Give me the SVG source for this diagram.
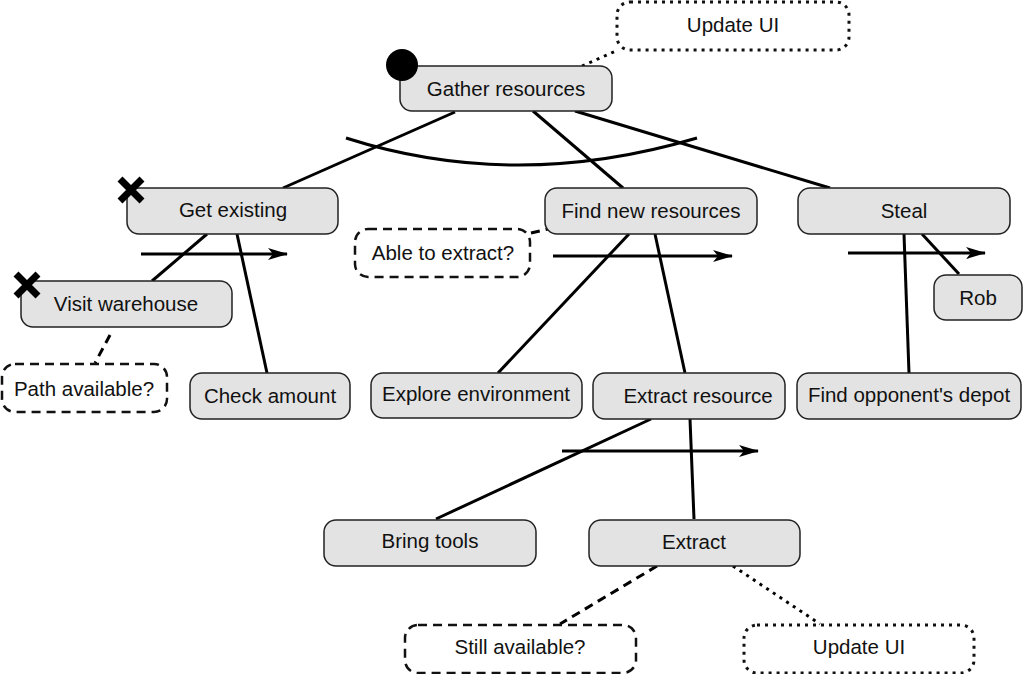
<svg xmlns="http://www.w3.org/2000/svg" width="1024" height="674" viewBox="0 0 1024 674">
<style>
.n{fill:#e3e3e3;stroke:#222;stroke-width:1.5}
.dash{fill:#fff;stroke:#111;stroke-width:2.5;stroke-dasharray:9,6}
.dot{fill:#fff;stroke:#111;stroke-width:3;stroke-dasharray:3,5}
text{font-family:"Liberation Sans",Arial,sans-serif;font-size:20.5px;fill:#111;text-anchor:middle}
.c{stroke:#000;stroke-width:3;fill:none}
.cd{stroke:#000;stroke-width:3;fill:none;stroke-dasharray:9,6}
.co{stroke:#000;stroke-width:3;fill:none;stroke-dasharray:3,5}
.x{stroke:#000;stroke-width:7;stroke-linecap:butt}
</style>
<defs>
<marker id="ah" markerWidth="20" markerHeight="12" refX="19" refY="6" orient="auto" markerUnits="userSpaceOnUse">
<path d="M0,0 L20,6 L0,12 L5,6 Z" fill="#000"/>
</marker>
</defs>
<g id="connectors">
<path class="c" d="M346,138 Q515,192 697,138"/>
<line class="c" x1="455" y1="112" x2="283" y2="188"/>
<line class="c" x1="533" y1="111" x2="623" y2="188"/>
<line class="c" x1="575" y1="111" x2="830" y2="188"/>
<path class="co" d="M582,66 Q600,58 618,50"/>
<line class="c" x1="207" y1="234" x2="152" y2="281"/>
<line class="c" x1="237" y1="234" x2="267" y2="373"/>
<line class="c" x1="141" y1="254" x2="287" y2="254" marker-end="url(#ah)"/>
<line class="cd" x1="110" y1="335" x2="95" y2="363"/>
<path class="cd" d="M531,233 L548,229"/>
<line class="c" x1="553" y1="256" x2="732" y2="256" marker-end="url(#ah)"/>
<line class="c" x1="629" y1="234" x2="498" y2="373"/>
<line class="c" x1="655" y1="234" x2="685" y2="373"/>
<line class="c" x1="904" y1="234" x2="909" y2="373"/>
<line class="c" x1="922" y1="234" x2="959" y2="274"/>
<line class="c" x1="848" y1="253" x2="985" y2="253" marker-end="url(#ah)"/>
<line class="c" x1="651" y1="419" x2="436" y2="519"/>
<line class="c" x1="690" y1="419" x2="694" y2="519"/>
<line class="c" x1="562" y1="451" x2="758" y2="451" marker-end="url(#ah)"/>
<line class="cd" x1="657" y1="566" x2="560" y2="624"/>
<line class="co" x1="733" y1="566" x2="820" y2="624"/>
</g>
<g id="update-ui-top"><rect class="dot" x="617" y="2" width="232" height="48" rx="13"/><text x="733" y="32">Update UI</text></g>
<g id="gather"><rect class="n" x="400" y="66" width="212" height="45" rx="12"/><text x="506" y="96">Gather resources</text><circle cx="402" cy="65" r="16" fill="#000"/></g>
<g id="get-existing"><rect class="n" x="127" y="188" width="211" height="46" rx="12"/><text x="233" y="217">Get existing</text>
<path class="x" d="M120,179 L142,201 M142,179 L120,201"/></g>
<g id="visit-warehouse"><rect class="n" x="21" y="281" width="211" height="46" rx="12"/><text x="126" y="311">Visit warehouse</text>
<path class="x" d="M16,274 L38,296 M38,274 L16,296"/></g>
<g id="path-available"><rect class="dash" x="2" y="364" width="165" height="48" rx="13"/><text x="84" y="396">Path available?</text></g>
<g id="check-amount"><rect class="n" x="190" y="373" width="160" height="46" rx="12"/><text x="270" y="403">Check amount</text></g>
<g id="find-new"><rect class="n" x="545" y="188" width="212" height="46" rx="12"/><text x="651" y="218">Find new resources</text></g>
<g id="able-to-extract"><rect class="dash" x="355" y="229" width="175" height="48" rx="13"/><text x="443" y="260">Able to extract?</text></g>
<g id="explore"><rect class="n" x="371" y="373" width="211" height="45" rx="12"/><text x="476" y="401">Explore environment</text></g>
<g id="extract-resource"><rect class="n" x="593" y="373" width="192" height="46" rx="12"/><text x="698" y="403">Extract resource</text></g>
<g id="steal"><rect class="n" x="798" y="188" width="212" height="46" rx="12"/><text x="904" y="218">Steal</text></g>
<g id="rob"><rect class="n" x="934" y="275" width="88" height="45" rx="12"/><text x="978" y="305">Rob</text></g>
<g id="find-depot"><rect class="n" x="797" y="373" width="224" height="46" rx="12"/><text x="909" y="402">Find opponent's depot</text></g>
<g id="bring-tools"><rect class="n" x="324" y="520" width="212" height="46" rx="12"/><text x="430" y="548">Bring tools</text></g>
<g id="extract"><rect class="n" x="589" y="520" width="211" height="46" rx="12"/><text x="694" y="549">Extract</text></g>
<g id="still-available"><rect class="dash" x="405" y="625" width="231" height="48" rx="13"/><text x="520" y="654">Still available?</text></g>
<g id="update-ui-bottom"><rect class="dot" x="744" y="625" width="230" height="48" rx="13"/><text x="859" y="654">Update UI</text></g>
</svg>
